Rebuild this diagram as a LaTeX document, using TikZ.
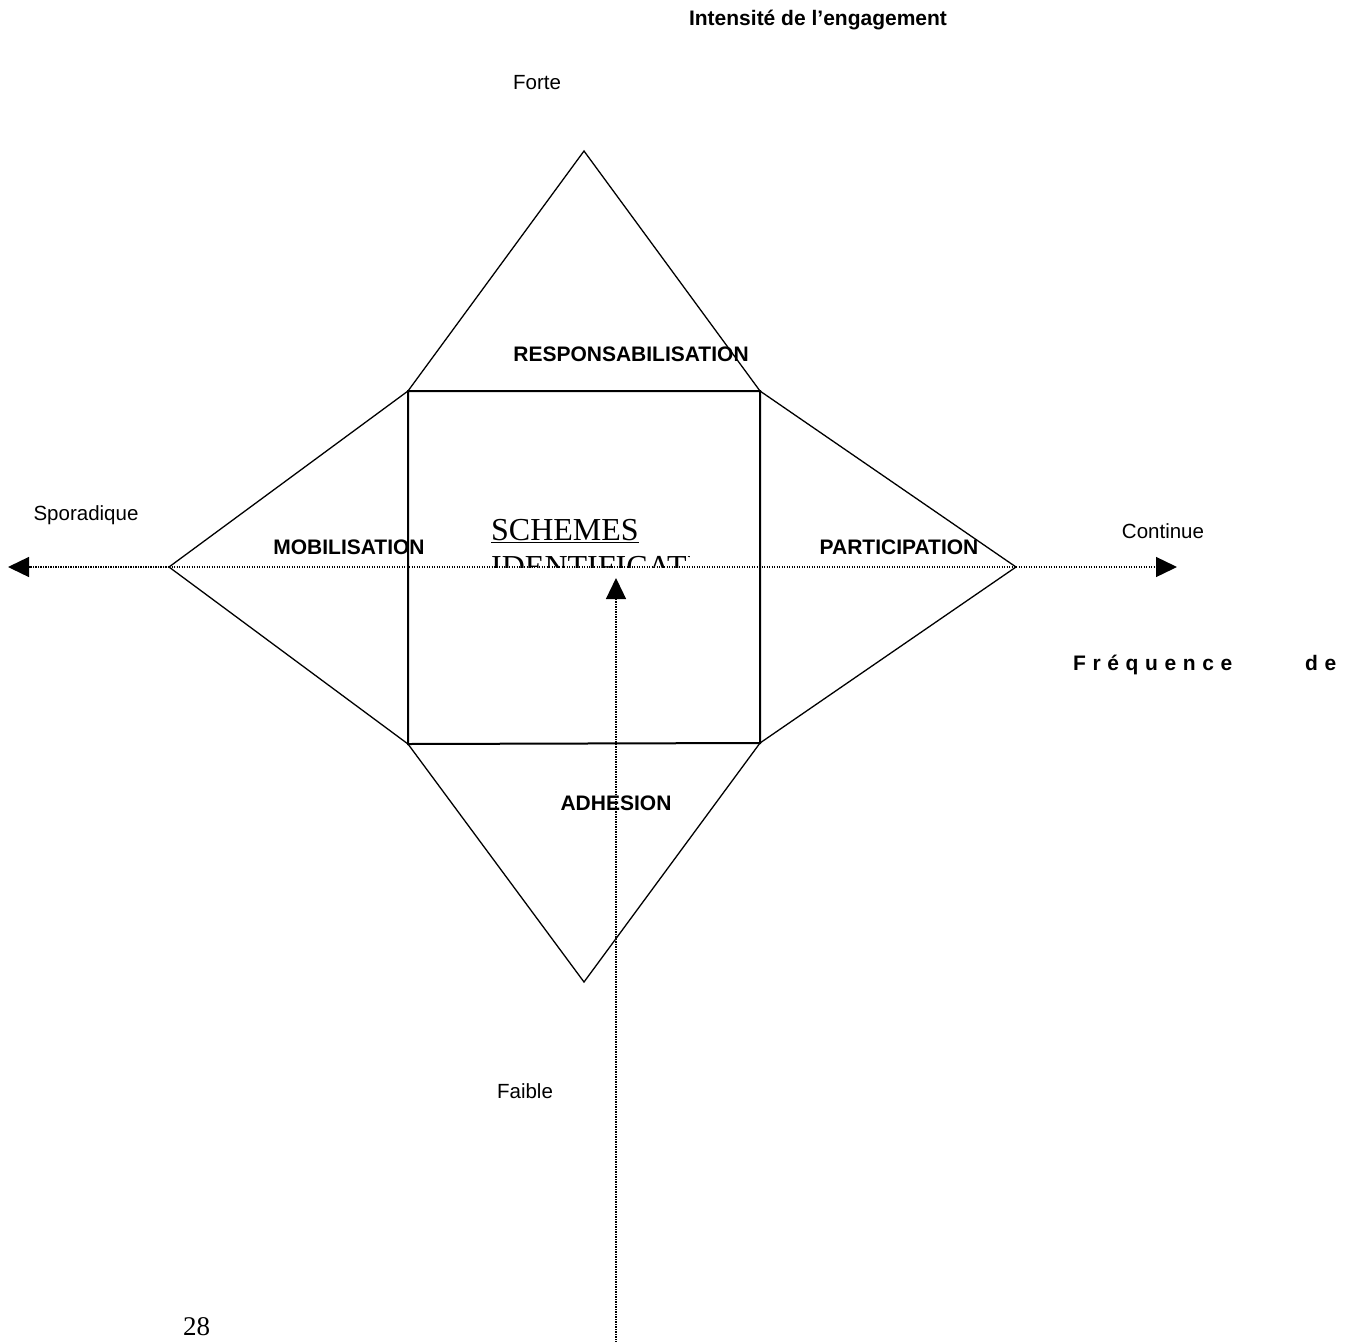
\documentclass[tikz,border=0pt]{standalone}
\usepackage{fontspec}
\setmainfont{Liberation Sans}
\newfontfamily\timesf{Liberation Serif}
\usetikzlibrary{arrows.meta}
\tikzset{
  lab/.style={font=\fontsize{20.5}{24}\selectfont, inner sep=0pt},
  blab/.style={font=\fontsize{21}{24}\selectfont\bfseries, inner sep=0pt},
  tri/.style={line width=1.3pt, line join=miter},
  sq/.style={line width=2pt},
  axis/.style={line width=1.3pt, dash pattern=on 1.2pt off 1.3pt},
  tip/.style={-{Triangle[length=21pt,width=20pt]}},
  ttxt/.style={anchor=base west, inner sep=0pt, font=\timesf\fontsize{32}{33}\selectfont}
}
\begin{document}
\begin{tikzpicture}[x=1pt,y=-1pt]
\useasboundingbox (0,0) rectangle (1367,1341);
% corners
\coordinate (T) at (584,151);
\coordinate (A) at (408,391);
\coordinate (B) at (760,391);
\coordinate (C) at (760,743);
\coordinate (D) at (408,744);
\coordinate (L) at (169,567);
\coordinate (R) at (1016,567);
\coordinate (Bt) at (584,982);
\coordinate (axL) at (8,567);
\coordinate (axR) at (1177,567);
\coordinate (vB) at (616,1345);
\coordinate (vT) at (616,578);
% triangles
\draw[tri] (A) -- (T) -- (B);
\draw[tri] (A) -- (L) -- (D);
\draw[tri] (B) -- (R) -- (C);
\draw[tri] (D) -- (Bt) -- (C);
% square
\draw[sq] (A) -- (B) -- (C) -- (D) -- cycle;
% clipped text
\node[ttxt] (sch) at (491,540) {\underline{SCHEMES}};
\begin{scope}
\clip (480,548) rectangle (689,567);
\node[ttxt] (idf) at (491,577) {IDENTIFICATION};
\end{scope}
% axes
\draw[axis] (L) -- (R);
\draw[axis, tip] (L) -- (axL);
\draw[axis, tip] (R) -- (axR);
\draw[axis, tip] (vB) -- (vT);
% labels
\node[blab] (int) at (818,20) {Intensité de l’engagement};
\node[lab] (forte) at (537,83) {Forte};
\node[blab] (resp) at (631,354) {RESPONSABILISATION};
\node[lab] (spor) at (86,515) {Sporadique};
\node[blab] (mob) at (349,547) {MOBILISATION};
\node[blab] (part) at (899,547) {PARTICIPATION};
\node[lab] (cont) at (1163,531) {Continue};
\node[blab] (adh) at (616,803) {ADHESION};
\node[lab] (faib) at (525,1091) {Faible};
\node[blab, anchor=west] (freq) at (1073,665) {F\kern6.6pt r\kern6.6pt é\kern6.6pt q\kern6.6pt u\kern6.6pt e\kern6.6pt n\kern6.6pt c\kern6.6pt e\kern73pt d\kern6.6pt e};
\node[anchor=base west, inner sep=0pt, font=\timesf\fontsize{27}{28}\selectfont] (pg) at (183,1335) {28};
\end{tikzpicture}
\end{document}
